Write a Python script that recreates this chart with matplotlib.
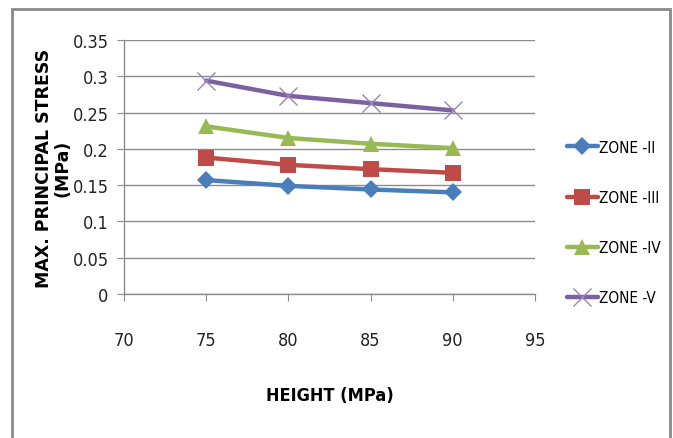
import matplotlib
matplotlib.use("Agg")
import matplotlib.pyplot as plt
from matplotlib.patches import Rectangle
from matplotlib import font_manager
from matplotlib.font_manager import FontProperties

heights = [75, 80, 85, 90]
zone_ii = [0.157, 0.149, 0.144, 0.140]
zone_iii = [0.188, 0.178, 0.172, 0.167]
zone_iv = [0.231, 0.215, 0.207, 0.201]
zone_v = [0.294, 0.273, 0.263, 0.253]
series_names = ["ZONE -II", "ZONE -III", "ZONE -IV", "ZONE -V"]
x_ticks = [70, 75, 80, 85, 90, 95]
y_ticks = [0, 0.05, 0.1, 0.15, 0.2, 0.25, 0.3, 0.35]
y_tick_labels = ["0", "0.05", "0.1", "0.15", "0.2", "0.25", "0.3", "0.35"]


def pick_narrow():
    cands = [
        dict(family=["Liberation Sans Narrow"]),
        dict(family=["DejaVu Sans"], stretch="condensed"),
        dict(family=["Roboto Condensed"]),
        dict(family=["Open Sans Condensed"]),
    ]
    for c in cands:
        try:
            fp = FontProperties(**c)
            path = font_manager.findfont(fp, fallback_to_default=False)
            low = path.lower()
            if "narrow" in low or "condensed" in low or "cond" in low:
                return c
        except Exception:
            pass
    return dict(family=["Roboto", "DejaVu Sans"])


narrow = pick_narrow()

W, H = 673, 439
fig = plt.figure(figsize=(W / 100, H / 100), dpi=100)
fig.patch.set_facecolor("white")

# outer chart border
fig.add_artist(Rectangle((12 / W, -0.05), (670 - 12) / W, 1.05 - 10 / H,
                         transform=fig.transFigure, fill=False,
                         edgecolor="#8a8a8a", linewidth=2))

ax = fig.add_axes([124 / W, 1 - 295 / H, (535 - 124) / W, (295 - 41) / H])

styles = [
    dict(color="#4a7ebb", marker="D", markersize=9, markeredgewidth=0),
    dict(color="#be4b48", marker="s", markersize=11, markeredgewidth=0),
    dict(color="#98b954", marker="^", markersize=12, markeredgewidth=0),
    dict(color="#7d60a0", marker="x", markersize=13, markeredgewidth=1.0,
         markeredgecolor="#9585b8"),
]
data = [zone_ii, zone_iii, zone_iv, zone_v]
for vals, name, st in zip(data, series_names, styles):
    ax.plot(heights, vals, linewidth=3.2, label=name, solid_capstyle="round", **st)

ax.set_xlim(70, 95)
ax.set_ylim(0, 0.35)
ax.set_xticks(x_ticks)
ax.set_xticklabels([str(v) for v in x_ticks], fontsize=13, color="#222222", **narrow)
ax.set_yticks(y_ticks)
ax.set_yticklabels(y_tick_labels, fontsize=13, color="#222222", **narrow)
ax.yaxis.grid(True, color="#8c8c8c", linewidth=1.0)
ax.set_axisbelow(True)
for s in ["top", "right"]:
    ax.spines[s].set_visible(False)
for s in ["left", "bottom"]:
    ax.spines[s].set_color("#8c8c8c")
    ax.spines[s].set_linewidth(1.0)
ax.tick_params(axis="both", direction="out", length=5, color="#8c8c8c")
ax.tick_params(axis="x", pad=22)
ax.tick_params(axis="y", pad=6)

ax.set_xlabel("HEIGHT (MPa)", fontsize=13, fontweight="bold", labelpad=26, **narrow)
ax.set_ylabel("MAX. PRINCIPAL STRESS\n(MPa)", fontsize=12.5, fontweight="bold",
              family=["DejaVu Sans"], labelpad=1, linespacing=1.05)

leg = fig.legend(loc="center left", bbox_to_anchor=(567 / W, 1 - 223.5 / H),
                 frameon=False, handlelength=2.0, borderpad=0,
                 handletextpad=0.1, labelspacing=2.3, borderaxespad=0,
                 prop=FontProperties(size=11, **narrow))

fig.savefig("out.png", dpi=100)
